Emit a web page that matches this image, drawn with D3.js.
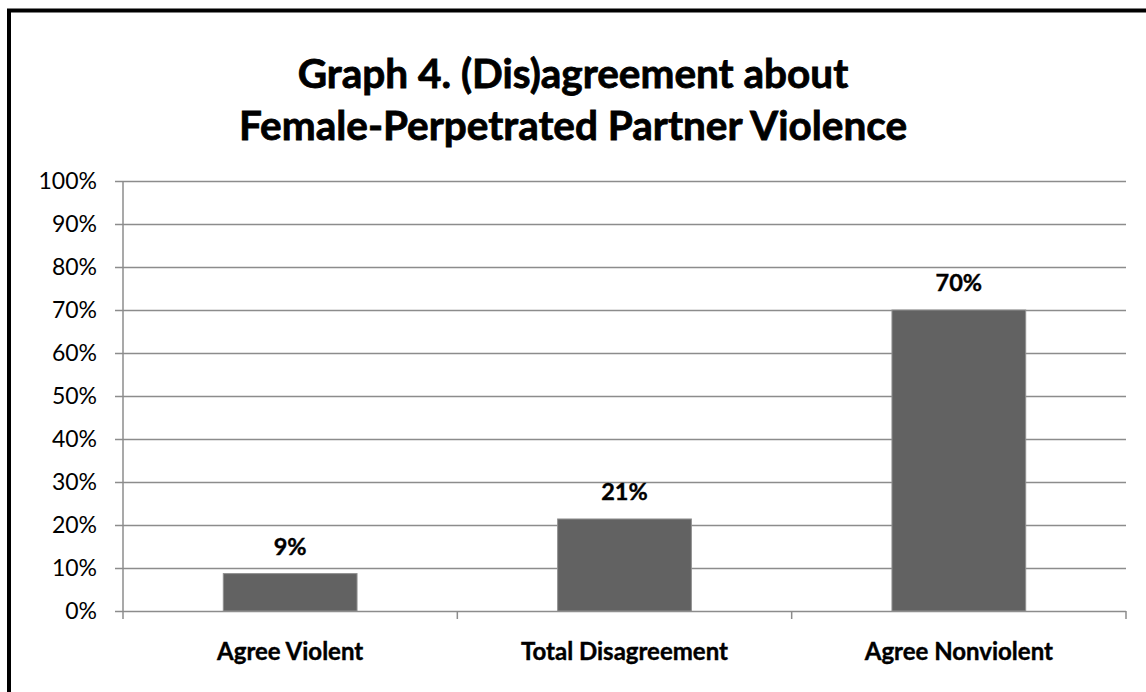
<!DOCTYPE html>
<html>
<head>
<meta charset="utf-8">
<script src="https://cdn.jsdelivr.net/npm/d3@7"></script>
<style>
  html, body { margin: 0; padding: 0; background: #fff; }
  svg { display: block; }
</style>
</head>
<body>
<svg id="chart" width="1146" height="692"></svg>
<script>
const categories = ["Agree Violent", "Total Disagreement", "Agree Nonviolent"];
const values = [0.087, 0.214, 0.70];
const valueLabels = ["9%", "21%", "70%"];
const yTicks = [0, 0.1, 0.2, 0.3, 0.4, 0.5, 0.6, 0.7, 0.8, 0.9, 1.0];
const titleLines = ["Graph 4. (Dis)agreement about", "Female-Perpetrated Partner Violence"];

const FONT = "Lato, 'Open Sans', sans-serif";
const GRID = "#8c8c8c";

const svg = d3.select("#chart");
const W = 1146, H = 692;
const margin = { left: 123, right: 20, top: 181, bottom: 81 };

// frame (only top and left edges fall inside the picture)
svg.append("rect")
    .attr("x", 9).attr("y", 10.5)
    .attr("width", W + 20).attr("height", H + 20)
    .attr("fill", "#fff")
    .attr("stroke", "#000")
    .attr("stroke-width", 4);

const x = d3.scaleBand()
    .domain(categories)
    .range([margin.left, W - margin.right])
    .paddingInner(0.6)
    .paddingOuter(0.3);

const y = d3.scaleLinear()
    .domain([0, 1])
    .range([H - margin.bottom, margin.top]);

// title
svg.append("g").selectAll("text")
    .data(titleLines)
    .join("text")
    .attr("x", W / 2)
    .attr("y", (d, i) => 88 + i * 52)
    .attr("text-anchor", "middle")
    .attr("font-family", FONT)
    .attr("font-weight", "bold")
    .attr("font-size", 40.5)
    .attr("fill", "#000")
    .attr("stroke", "#000")
    .attr("stroke-width", 0.8)
    .text(d => d);

// y axis with gridlines
const yAxis = svg.append("g")
    .attr("transform", `translate(${margin.left},0)`)
    .call(d3.axisLeft(y)
        .tickValues(yTicks)
        .tickFormat(d3.format(".0%"))
        .tickSize(-(W - margin.left - margin.right))
        .tickPadding(26));
yAxis.select(".domain").remove();
yAxis.selectAll(".tick line")
    .attr("x1", -8)
    .attr("stroke", GRID)
    .attr("stroke-width", 1.5);
yAxis.selectAll(".tick text")
    .attr("font-family", FONT)
    .attr("font-size", 23)
    .attr("fill", "#000");

svg.append("line")
    .attr("x1", margin.left).attr("x2", margin.left)
    .attr("y1", margin.top).attr("y2", y(0))
    .attr("stroke", GRID).attr("stroke-width", 1.5);

// bars
svg.append("g").selectAll("rect")
    .data(values)
    .join("rect")
    .attr("x", (d, i) => x(categories[i]))
    .attr("y", d => y(d))
    .attr("width", x.bandwidth())
    .attr("height", d => y(0) - y(d))
    .attr("fill", "#626262")
    .attr("stroke", "#909090")
    .attr("stroke-width", 1);

// value labels
svg.append("g").selectAll("text")
    .data(values)
    .join("text")
    .attr("x", (d, i) => x(categories[i]) + x.bandwidth() / 2)
    .attr("y", d => y(d) - 19)
    .attr("text-anchor", "middle")
    .attr("font-family", FONT)
    .attr("font-weight", "bold")
    .attr("font-size", 23.5)
    .attr("stroke", "#000")
    .attr("stroke-width", 0.4)
    .text((d, i) => valueLabels[i]);

// x axis: ticks at category boundaries
const boundaries = d3.range(categories.length + 1).map(i => margin.left + i * (W - margin.left - margin.right) / categories.length);
svg.append("g").selectAll("line")
    .data(boundaries)
    .join("line")
    .attr("x1", d => d).attr("x2", d => d)
    .attr("y1", y(0)).attr("y2", y(0) + 8)
    .attr("stroke", GRID).attr("stroke-width", 1.5);

svg.append("g").selectAll("text")
    .data(categories)
    .join("text")
    .attr("x", d => x(d) + x.bandwidth() / 2)
    .attr("y", 660)
    .attr("text-anchor", "middle")
    .attr("font-family", FONT)
    .attr("font-weight", "bold")
    .attr("font-size", 24)
    .attr("stroke", "#000")
    .attr("stroke-width", 0.4)
    .text(d => d);
</script>
</body>
</html>
